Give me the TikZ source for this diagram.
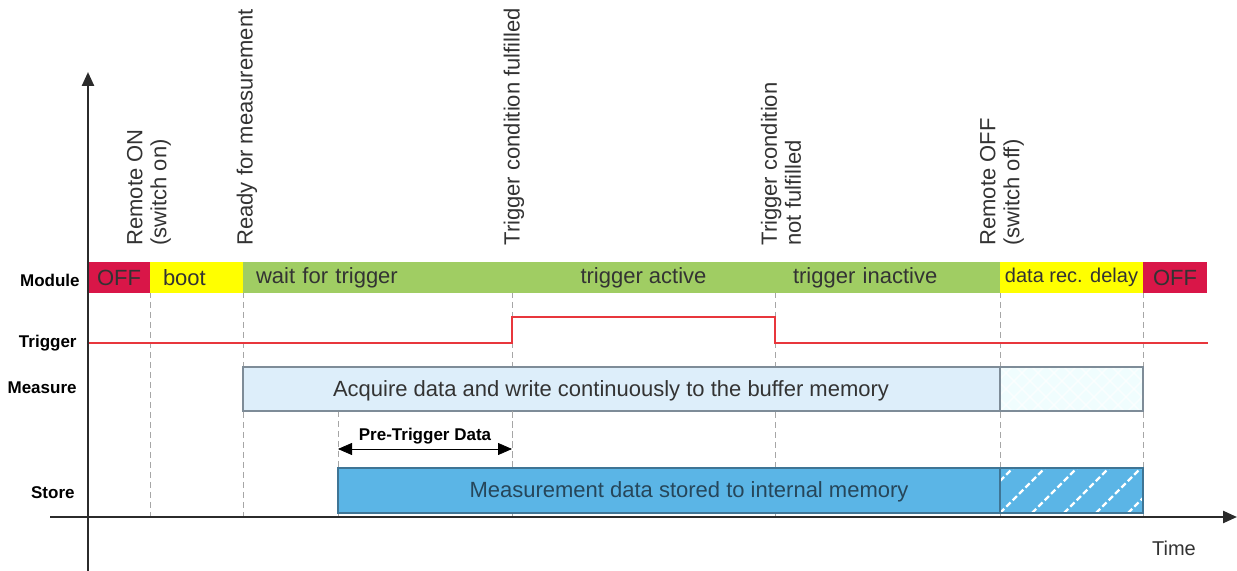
\documentclass[tikz,border=0pt]{standalone}
\usepackage{fontspec}
\setmainfont{Liberation Sans}
\usetikzlibrary{positioning, arrows.meta}
\definecolor{tdOff}{HTML}{D91648}
\definecolor{tdBoot}{HTML}{FFFF00}
\definecolor{tdWait}{HTML}{A0CD63}
\definecolor{tdMeas}{HTML}{DDEEFA}
\definecolor{tdMeasEdge}{HTML}{7E8C98}
\definecolor{tdStore}{HTML}{5BB5E6}
\definecolor{tdStoreEdge}{HTML}{3F7595}
\definecolor{tdTrig}{HTML}{E8363C}
\definecolor{tdInk}{HTML}{333333}
\definecolor{tdAxis}{HTML}{2B2B2B}
\tikzset{
    tdSeg/.style={
        anchor=north west,
        minimum height=15.5pt,
        inner ysep=0pt,
        outer sep=0pt,
        font=\fontsize{11}{13}\selectfont,
        text=tdInk
    },
    tdSegL/.style={tdSeg, align=left},
    tdRow/.style={anchor=east, inner sep=0pt, font=\fontsize{8.5}{10}\selectfont\bfseries, text=black},
    tdEvent/.style={
        rotate=90, anchor=west, inner sep=0pt, align=left,
        font=\fontsize{11}{12}\selectfont, text=tdInk
    },
    tdGrid/.style={draw=gray!70, dash pattern=on 3pt off 2pt, line width=0.4pt},
    tdAx/.style={draw=tdAxis, line width=1.2pt, -{Triangle[length=7pt, width=6pt]}}
}

\begin{document}
\begin{tikzpicture}[x=0.5pt, y=-0.5pt,
  measbox/.style={anchor=north west, draw=tdMeasEdge, fill=tdMeas, line width=0.6pt,
                  minimum height=22pt, inner sep=0pt, outer sep=0pt},
  storebox/.style={anchor=north west, draw=tdStoreEdge, fill=tdStore, line width=0.6pt,
                   minimum height=22.5pt, inner sep=0pt, outer sep=0pt},
  crossHatch/.style={path picture={
      \foreach \k in {-4,...,9}{
        \draw[white, opacity=0.6, line width=0.8pt]
          ([xshift=\k*8pt]path picture bounding box.south west) -- ++(24pt,24pt);
        \draw[white, opacity=0.6, line width=0.8pt]
          ([xshift=\k*8pt]path picture bounding box.north west) -- ++(24pt,-24pt);
      }}},
  dashHatch/.style={path picture={
      \foreach \k in {-1,...,5}{
        \draw[white, line width=1.1pt, dash pattern=on 3pt off 1.5pt]
          ([xshift=\k*16pt]path picture bounding box.south west) -- ++(26pt,26pt);
      }}},
  bodytxt/.style={font=\fontsize{11}{13}\selectfont},
  pre/.style={{Triangle[length=7pt, width=6pt]}-{Triangle[length=7pt, width=6pt]}, line width=0.4pt}
]
\useasboundingbox (0,0) rectangle (1237,571);

% event grid lines
\foreach \x in {150,243,512,775,1000,1143}
  \draw[tdGrid] (\x,262) -- (\x,517);
\draw[tdGrid] (338,411) -- (338,517);

% ===== Module row =====
\node[tdSeg, fill=tdOff, minimum width=31pt, inner xsep=0pt] (mOffA) at (88,262) {OFF};
\node[tdSegL, fill=tdBoot, text width=33.5pt, inner xsep=6.5pt] (mBoot) at (150,262) {boot};
\node[tdSegL, fill=tdWait, text width=121.5pt, inner xsep=6.5pt] (mWait) at (243,262) {wait for trigger};
\node[tdSeg, fill=tdWait, minimum width=131.5pt, inner xsep=0pt] (mActive) at (512,262) {trigger active};
\node[tdSegL, fill=tdWait, text width=94.5pt, inner xsep=9pt] (mInactive) at (775,262) {trigger inactive};
\node[tdSeg, fill=tdBoot, minimum width=71.5pt, inner xsep=0pt,
      font=\fontsize{10}{12}\selectfont] (mDelay) at (1000,262) {data rec. delay};
\node[tdSeg, fill=tdOff, minimum width=32pt, inner xsep=0pt] (mOffB) at (1143,262) {OFF};

% ===== Trigger row =====
\coordinate (tStart) at (88,343);
\coordinate (tEnd) at (1208,343);
\draw[tdTrig, line width=1pt] (tStart) -- (512,343) -- (512,317) -- (775,317)
  -- (775,343) -- (tEnd);

% ===== Measure row =====
\node[measbox, minimum width=378.5pt] (measMain) at (243,367) {};
\node[measbox, minimum width=71.5pt, fill=tdMeas!70!cyan!15, crossHatch] (measDelay) at (1000,367) {};
\node[bodytxt, text=tdInk] (measTxt) at (611,391)
  {Acquire data and write continuously to the buffer memory};

% ===== Pre-trigger span =====
\draw[tdGrid] (512,411) -- (512,517);
\coordinate (preA) at (338,449);
\coordinate (preB) at (512,449);
\draw[pre] (preA) -- (preB);
\node[font=\fontsize{8.5}{10}\selectfont\bfseries] (preTxt) at (425,436) {Pre-Trigger Data};

% ===== Store row =====
\node[storebox, minimum width=331pt] (storeMain) at (338,468) {};
\node[storebox, minimum width=71.5pt, dashHatch] (storeDelay) at (1000,468) {};
\node[bodytxt, text=tdStoreEdge!60!black] (storeTxt) at (689,492)
  {Measurement data stored to internal memory};

% row labels
\node[tdRow] (lModule) at (80,280) {Module};
\node[tdRow] (lTrigger) at (77,343) {Trigger};
\node[tdRow] (lMeasure) at (77,388) {Measure};
\node[tdRow] (lStore) at (75,493) {Store};

% axes
\coordinate (yBot) at (88,571);
\coordinate (yTop) at (88,72);
\coordinate (xLeft) at (50,517);
\coordinate (xRight) at (1237,517);
\draw[tdAx] (yBot) -- (yTop);
\draw[tdAx] (xLeft) -- (xRight);
\node[font=\fontsize{10}{12}\selectfont, text=tdInk] (timeTxt) at (1174,548) {Time};

% event labels
\node[tdEvent] (eOn) at (149,246) {Remote ON\\(switch on)};
\node[tdEvent] (eReady) at (247,246) {Ready for measurement};
\node[tdEvent] (eFul) at (514,246) {Trigger condition fulfilled};
\node[tdEvent] (eNot) at (781,246) {Trigger condition\\not fulfilled};
\node[tdEvent] (eOff) at (1002,246) {Remote OFF\\(switch off)};

\end{tikzpicture}
\end{document}
